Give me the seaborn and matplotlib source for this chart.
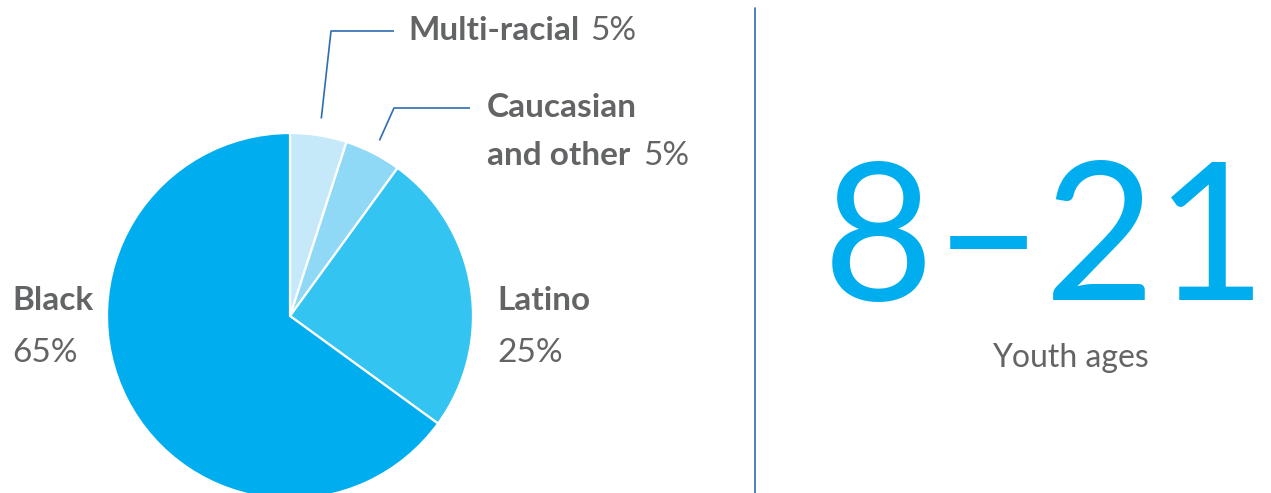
import numpy as np
import matplotlib
matplotlib.use("Agg")
import matplotlib.pyplot as plt
import seaborn as sns

# data
groups = ["Multi-racial", "Caucasian\nand other", "Latino", "Black"]
shares = [5, 5, 25, 65]
colors = ["#c6e9f9", "#8fd9f6", "#33c4f2", "#00aeef"]
age_range = "8\u201321"
age_caption = "Youth ages"

sns.set_theme(style="white")
plt.rcParams["font.family"] = ["Lato", "DejaVu Sans"]

gray = "#636466"
blue_line = "#2e6db4"

fig = plt.figure(figsize=(12.71, 4.93), dpi=100)
ax = fig.add_axes([0, 0, 1, 1])

# pie in pixel-like coords (y goes down), drawn clockwise from 12 o'clock
cx, cy, R = 290, 316, 183
ax.pie(shares, colors=colors, center=(cx, cy), radius=R, startangle=270,
       counterclock=True, wedgeprops=dict(edgecolor="white", linewidth=1.6))
ax.set_xlim(0, 1271)
ax.set_ylim(493, 0)
ax.set_aspect("equal")
ax.axis("off")

# leader lines for the two small slices
cum = np.cumsum([0] + shares)
mid = [(cum[i] + cum[i + 1]) / 2 / 100 * 2 * np.pi for i in range(len(shares))]

def tip(i, r=200):
    return cx + r * np.sin(mid[i]), cy - r * np.cos(mid[i])

x0, y0 = tip(0)
ax.plot([x0, 331, 394], [y0, 31, 31], color=blue_line, lw=1.2, solid_capstyle="butt")
x1, y1 = tip(1, 197)
ax.plot([x1, 394, 470], [y1, 108, 108], color=blue_line, lw=1.2, solid_capstyle="butt")

fs = 24
ax.text(408, 40, "Multi-racial", fontsize=fs, fontweight="bold", color=gray, va="baseline")
ax.text(590, 40, f"{shares[0]}%", fontsize=fs, color=gray, va="baseline")

ax.text(487, 117, "Caucasian", fontsize=fs, fontweight="bold", color=gray, va="baseline")
ax.text(487, 165, "and other", fontsize=fs, fontweight="bold", color=gray, va="baseline")
ax.text(643, 165, f"{shares[1]}%", fontsize=fs, color=gray, va="baseline")

ax.text(497, 310, groups[2], fontsize=fs, fontweight="bold", color=gray, va="baseline")
ax.text(497, 362, f"{shares[2]}%", fontsize=fs, color=gray, va="baseline")

ax.text(12, 310, groups[3], fontsize=fs, fontweight="bold", color=gray, va="baseline")
ax.text(12, 362, f"{shares[3]}%", fontsize=fs, color=gray, va="baseline")

# divider
ax.plot([755, 755], [8, 493], color=blue_line, lw=1.2)

# big age range
ax.text(1045, 300, age_range, fontsize=138, color="#00aeef",
        ha="center", va="baseline")
ax.text(1070, 367, age_caption, fontsize=23, color=gray,
        ha="center", va="baseline")

fig.savefig("out.png", dpi=100)
